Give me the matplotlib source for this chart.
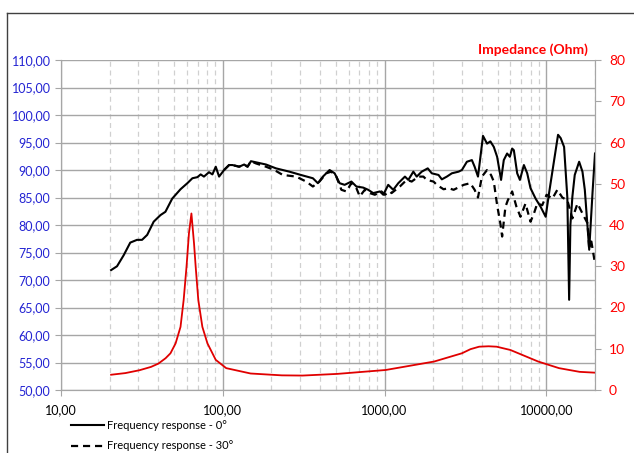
import numpy as np
import matplotlib
matplotlib.use("Agg")
import matplotlib.pyplot as plt
from matplotlib.ticker import FuncFormatter, LogLocator, FixedLocator
from matplotlib.lines import Line2D

plt.rcParams['font.family'] = ['Lato', 'DejaVu Sans']

# frequency response 0 deg (Hz, dB)
fr0_freq = [20.4, 22.2, 24.4, 26.8, 29.5, 31.7, 34.1, 37.4, 41.2, 44.2, 48.7, 54.8,
            60.4, 64.9, 69.7, 73, 76.5, 82.2, 86.3, 90.5, 94.9, 101.9, 109.4, 114.9,
            126.3, 135.6, 142.3, 149.3, 160.3, 184.9, 213.3, 258, 312.6, 360.6, 387.3,
            416, 457.5, 491.4, 527.7, 566.7, 623.7, 669.9, 737.9, 792.5, 851.1, 935.4,
            982.4, 1054, 1132, 1216, 1337, 1403, 1507, 1581, 1698, 1850, 1959, 2156,
            2261, 2428, 2607, 2870, 3008, 3229, 3467, 3605, 3782, 4062, 4301, 4511,
            4736, 4966, 5253, 5459, 5724, 5952, 6150, 6300, 6607, 6868, 7268, 7621,
            7985, 8586, 9226, 9911, 10400, 10900, 11820, 12270, 12880, 13490, 13840,
            14090, 14500, 14990, 15960, 16730, 17300, 18420, 19300, 20000]
fr0_db = [71.8, 72.5, 74.5, 76.8, 77.3, 77.3, 78.2, 80.6, 81.8, 82.4, 84.8, 86.5,
          87.6, 88.5, 88.7, 89.2, 88.8, 89.6, 89.2, 90.6, 88.8, 90.0, 90.9, 90.9,
          90.6, 91.0, 90.6, 91.6, 91.4, 91.0, 90.3, 89.7, 89.0, 88.5, 87.6,
          88.8, 90.0, 89.4, 87.6, 87.3, 87.9, 87.0, 86.8, 86.4, 85.8, 86.1,
          85.5, 87.3, 86.4, 87.6, 88.8, 88.2, 89.7, 88.8, 89.7, 90.3, 89.4, 89.1,
          88.3, 88.8, 89.4, 89.7, 90.0, 91.5, 91.8, 90.6, 88.8, 96.2, 94.8, 95.2,
          94.2, 92.4, 88.2, 91.8, 93.0, 92.4, 93.9, 93.6, 89.4, 88.2, 90.9, 89.4,
          86.7, 84.8, 83.3, 81.5, 85.8, 89.7, 96.4, 95.8, 94.2, 85.0, 66.4,
          80.0, 85.2, 89.1, 91.5, 89.7, 86.4, 75.5, 85.8, 93.0]

# frequency response 30 deg (Hz, dB)
fr30_freq = [101.9, 109.4, 114.9, 126.3, 135.6, 142.3, 149.3, 160.3, 184.9, 208.3,
             234.9, 284.1, 327.7, 360.6, 396.3, 436.3, 468.8, 503.6, 541, 580.7,
             623.7, 669.9, 702.7, 754.9, 810.9, 870.9, 957.6, 1004, 1079, 1105, 1244,
             1370, 1472, 1619, 1739, 1824, 2007, 2104, 2316, 2489, 2674, 3084, 3388,
             3605, 3782, 3999, 4301, 4551, 4736, 4966, 5200, 5333, 5589, 5783, 6150,
             6541, 6924, 7436, 7985, 8387, 8790, 9441, 10040, 10900, 11700, 12560,
             13490, 14500, 15590, 16730, 17990, 18420, 18840, 20000]
fr30_db = [90.0, 90.9, 90.9, 90.6, 91.0, 90.6, 91.6, 91.2, 90.6, 90.0,
           89.1, 88.8, 87.9, 87.0, 87.9, 89.4, 89.7, 88.8, 86.4, 86.1,
           87.6, 86.7, 85.2, 86.4, 85.8, 85.5, 86.1, 85.5, 86.1, 85.8, 87.0,
           88.2, 87.9, 88.8, 88.8, 88.2, 87.9, 87.3, 86.5, 86.7, 86.4, 87.3, 87.6,
           86.4, 85.0, 88.8, 90.0, 89.1, 87.9, 83.6, 80.3, 77.9, 83.3, 84.5, 86.1,
           83.3, 81.5, 83.9, 80.6, 82.1, 83.9, 83.6, 85.5, 84.8, 86.4, 85.0,
           84.5, 81.2, 83.9, 82.1, 80.3, 75.5, 77.6, 73.0]

# impedance (Hz, Ohm)
imp_freq = [20.4, 25, 30.6, 36, 40, 44.3, 47.5, 51.1, 54.8, 57.3, 59.7, 61.8, 64.0,
            66.4, 68.0, 70.6, 74.8, 80.4, 90.5, 105, 148.6, 231.6, 311, 509, 1016,
            2026, 3008, 3400, 3844, 4400, 4929, 6000, 8910, 11980, 16070, 20000]
imp_ohm = [3.7, 4.1, 4.8, 5.6, 6.4, 7.7, 8.9, 11.3, 15.3, 21.8, 29.9, 38.0, 42.8,
           35.6, 29.9, 21.8, 15.3, 11.3, 7.3, 5.3, 4.0, 3.55, 3.5, 3.9, 4.85,
           6.9, 8.9, 9.9, 10.5, 10.6, 10.5, 9.7, 6.9, 5.3, 4.4, 4.2]

fig = plt.figure(figsize=(6.34, 4.53), dpi=100)
W, H = 634, 453
ax = fig.add_axes([61 / W, 1 - 390 / H, (595 - 61) / W, (390 - 60) / H])
ax2 = ax.twinx()

grid_c = '#A6A6A6'
l0, = ax.plot(fr0_freq, fr0_db, color='black', lw=1.5, label='Frequency response - 0°', zorder=4)
l30, = ax.plot(fr30_freq, fr30_db, color='black', lw=1.6, ls=(0, (3.2, 2.2)),
               label='Frequency response - 30°', zorder=3)
ax2.plot(imp_freq, imp_ohm, color='#E00000', lw=1.3)

ax.set_xscale('log')
ax.set_xlim(10, 20000)
ax.set_ylim(50, 110)
ax.set_yticks(np.arange(50, 111, 5))
ax.xaxis.set_major_locator(FixedLocator([10, 100, 1000, 10000]))
ax.xaxis.set_minor_locator(LogLocator(base=10, subs=np.arange(2, 10)))
ax.xaxis.set_minor_formatter(FuncFormatter(lambda v, p: ''))
fmt = FuncFormatter(lambda v, p: f"{v:.2f}".replace('.', ','))
ax.xaxis.set_major_formatter(fmt)
ax.yaxis.set_major_formatter(fmt)

ax.grid(True, which='major', axis='both', color=grid_c, lw=1.0, ls='-')
ax.grid(True, which='minor', axis='x', color='#D0D0D0', lw=0.9, ls=(0, (4, 3)))
ax.set_axisbelow(True)

ax2.set_ylim(0, 80)
ax2.set_yticks(np.arange(0, 81, 10))

for a in (ax, ax2):
    for s in a.spines.values():
        s.set_color(grid_c)
    a.spines['top'].set_visible(False)
ax.tick_params(axis='y', colors=grid_c, labelcolor='#2323D2', labelsize=9, length=4, direction='out')
ax.tick_params(axis='x', which='major', colors=grid_c, labelcolor='black', labelsize=9,
               length=4, direction='out', pad=6)
ax.tick_params(axis='x', which='minor', length=0)
ax2.tick_params(axis='y', colors=grid_c, labelcolor='#FF0000', labelsize=10, length=4,
                direction='out', pad=6)

fig.text(588 / W, 1 - 50 / H, 'Impedance (Ohm)', color='#FF0000', fontsize=10,
         fontweight='bold', ha='right', va='center')

fig.legend(handles=[l0, l30], loc='upper left', bbox_to_anchor=(71 / W, 1 - 420 / H),
           frameon=False, fontsize=8, handlelength=3.0, handletextpad=0.25,
           labelspacing=0.85, borderpad=0, borderaxespad=0)

# chart border
fig.add_artist(Line2D([7 / W, 7 / W], [0, 1 - 13 / H], transform=fig.transFigure, color='#404040', lw=1))
fig.add_artist(Line2D([7 / W, 1], [1 - 13 / H, 1 - 13 / H], transform=fig.transFigure, color='#404040', lw=1))

fig.savefig('out.png', dpi=100)
